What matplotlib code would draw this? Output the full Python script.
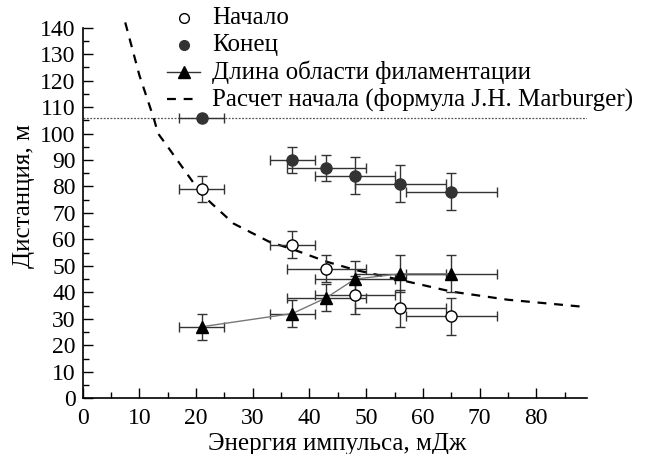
import os
import numpy as np
import matplotlib
import matplotlib.pyplot as plt
from matplotlib.lines import Line2D
from matplotlib.ticker import MultipleLocator
from matplotlib import font_manager

# шрифт с засечками и кириллицей
font_files = [
    '/usr/share/fonts/truetype/liberation/LiberationSerif-Regular.ttf',
    '/usr/share/fonts/truetype/liberation2/LiberationSerif-Regular.ttf',
    os.path.join(matplotlib.get_data_path(), 'fonts', 'ttf', 'DejaVuSerif.ttf'),
]
for path in font_files:
    if os.path.exists(path):
        font_manager.fontManager.addfont(path)
        plt.rcParams['font.family'] = font_manager.FontProperties(fname=path).get_name()
        break

# энергия импульса, мДж
energy = [21, 37, 43, 48, 56, 65]
energy_err = [4, 4, 7, 7, 8, 8]

# начало филамента
start = [79, 58, 49, 39, 34, 31]
start_err = [5, 5, 5, 7, 7, 7]

# конец филамента
end = [106, 90, 87, 84, 81, 78]
end_err = [0, 5, 5, 7, 7, 7]

# длина области филаментации
length = [27, 32, 38, 45, 47, 47]
length_err = [5, 5, 5, 7, 7, 7]

# расчет начала по Марбургеру
calc_x = [7.5, 10, 12.5, 13.3, 15, 19, 21, 26.6, 33, 37, 43, 48, 56, 65, 75, 89]
calc_y = [142, 122, 106, 100, 95, 83, 77, 66, 59, 56.3, 51.6, 48.5, 44.7, 40.3, 37.2, 34.4]

end_level = 106

W, H = 653, 454
fig = plt.figure(figsize=(W / 100, H / 100), dpi=100)
ax_l, ax_r, ax_t, ax_b = 82.7, 587.3, 27.7, 398.2
ax = fig.add_axes([ax_l / W, 1 - ax_b / H, (ax_r - ax_l) / W, (ax_b - ax_t) / H])

eb = dict(fmt='none', ecolor='#333333', elinewidth=1, capsize=3.5, capthick=1)
dash = (0, (4, 3.5))

ax.axhline(end_level, color='#555555', lw=0.9, ls=(0, (1.5, 1.2)))
ax.plot(calc_x, calc_y, color='black', lw=1.6, ls=dash, clip_on=False, zorder=2)

ax.errorbar(energy, length, xerr=energy_err, yerr=length_err, **eb)
ax.errorbar(energy, start, xerr=energy_err, yerr=start_err, **eb)
ax.errorbar(energy, end, xerr=energy_err, yerr=end_err, **eb)

ax.plot(energy, length, color='#777777', lw=1, zorder=3)
ax.plot(energy, length, ls='none', marker='^', ms=8, color='black', zorder=4)
ax.plot(energy, start, ls='none', marker='o', ms=8, mfc='white', mec='black', mew=1, zorder=4)
ax.plot(energy, end, ls='none', marker='o', ms=8, mfc='#333333', mec='#333333', zorder=4)

ax.set_xlim(0, 89)
ax.set_ylim(0, 140)
ax.xaxis.set_minor_locator(MultipleLocator(5))
ax.yaxis.set_major_locator(MultipleLocator(10))
ax.yaxis.set_minor_locator(MultipleLocator(5))
ax.set_xticks(range(0, 81, 10))
ax.tick_params(which='both', direction='in', width=1, labelsize=17)
ax.tick_params(which='major', length=7)
ax.tick_params(which='minor', length=4)
ax.tick_params(axis='x', pad=7)
ax.tick_params(axis='y', pad=5)
for side in ('top', 'right'):
    ax.spines[side].set_visible(False)
for side in ('left', 'bottom'):
    ax.spines[side].set_linewidth(1.2)

ax.set_xlabel('Энергия импульса, мДж', fontsize=18)
ax.set_ylabel('Дистанция, м', fontsize=18)
ax.xaxis.set_label_coords(0.504, -0.095)
ax.yaxis.set_label_coords(-0.116, 0.546)
ax.yaxis.label.set_va('center')


# легенда: позиции строк в пикселях фигуры
def to_axes(px, py):
    return (px - ax_l) / (ax_r - ax_l), (ax_b - py) / (ax_b - ax_t)


rows = [
    ('Начало', dict(ls='none', marker='o', ms=7, mfc='white', mec='black')),
    ('Конец', dict(ls='none', marker='o', ms=7, mfc='#333333', mec='#333333')),
    ('Длина области филаментации',
     dict(color='#333333', lw=1, marker='^', ms=8, mfc='black', mec='black')),
    ('Расчет начала (формула J.H. Marburger)', dict(color='black', lw=1.6, ls=dash)),
]
for i, (label, style) in enumerate(rows):
    py = 18 + 27 * i
    x0, y0 = to_axes(167, py)
    x1, _ = to_axes(200, py)
    xt, _ = to_axes(212, py)
    xm = (x0 + x1) / 2
    handle = Line2D([x0, xm, x1], [y0, y0, y0], transform=ax.transAxes,
                    clip_on=False, markevery=[1], **style)
    ax.add_line(handle)
    ax.text(xt, y0, label, transform=ax.transAxes, fontsize=18, va='center', ha='left')

fig.savefig('out.png', dpi=100)
